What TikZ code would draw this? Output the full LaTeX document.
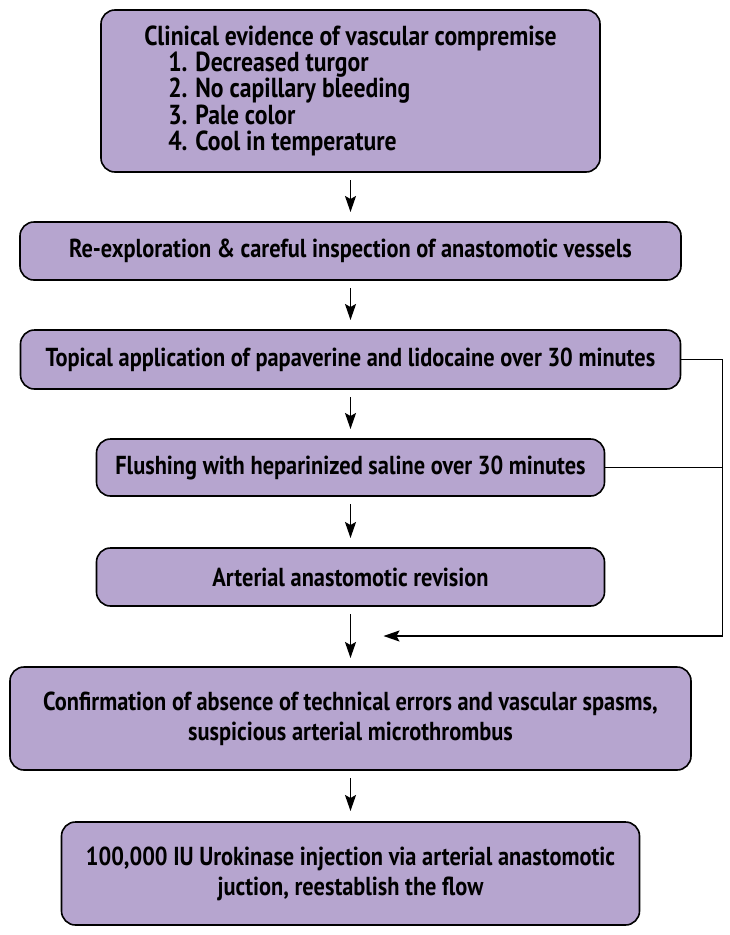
\documentclass[tikz,border=0pt]{standalone}
\usepackage{fontspec}
\setmainfont{PT Sans}[FakeStretch=0.86]
\usepackage{tikz}
\usetikzlibrary{positioning, arrows.meta}
\definecolor{boxfill}{RGB}{182,165,207}
\tikzstyle{stepbox} = [draw, line width=1.6pt, outer sep=0pt, fill=boxfill, rounded corners=14pt, align=center, font=\fontsize{26}{27}\selectfont\bfseries]
\tikzstyle{arrow} = [line width=1.5pt, -{Stealth[length=16pt,width=11pt,inset=3pt]}]

\begin{document}
\begin{tikzpicture}
        \useasboundingbox (0,0) rectangle (729pt,-935pt);
        \node[stepbox, minimum width=499pt, minimum height=162pt, align=left,
              font=\fontsize{27.5}{26.5}\selectfont\bfseries] (1) at (350.5pt,-91pt)
            {Clinical evidence of vascular compremise\\[-1pt]
             \hspace*{24pt}1. Decreased turgor\\
             \hspace*{24pt}2. No capillary bleeding\\
             \hspace*{24pt}3. Pale color\\
             \hspace*{24pt}4. Cool in temperature};
        \node[stepbox, below=50pt of 1, minimum width=661pt, minimum height=58pt] (2)
            {Re-exploration \& careful inspection of anastomotic vessels};
        \node[stepbox, below=50pt of 2, minimum width=660pt, minimum height=59pt] (3)
            {Topical application of papaverine and lidocaine over 30 minutes};
        \node[stepbox, below=50pt of 3, minimum width=508pt, minimum height=57pt] (4)
            {Flushing with heparinized saline over 30 minutes};
        \node[stepbox, below=52pt of 4, minimum width=508pt, minimum height=58pt] (5)
            {Arterial anastomotic revision};
        \node[stepbox, below=61pt of 5, minimum width=681pt, minimum height=103pt] (6)
            {Confirmation of absence of technical errors and vascular spasms,\\[3pt]
             suspicious arterial microthrombus};
        \node[stepbox, below=52pt of 6, minimum width=578pt, minimum height=103pt] (7)
            {100,000 IU Urokinase injection via arterial anastomotic\\[3pt]
             juction, reestablish the flow};
        \coordinate (r3) at ([xshift=42pt]3.east);
        \coordinate (tip) at ([xshift=33pt,yshift=31pt]6.north);
        \draw[arrow] ([yshift=-8pt]1.south) -- ([yshift=10pt]2.north);
        \draw[arrow] ([yshift=-8pt]2.south) -- ([yshift=10pt]3.north);
        \draw[arrow] ([yshift=-8pt]3.south) -- ([yshift=10pt]4.north);
        \draw[arrow] ([yshift=-8pt]4.south) -- ([yshift=10pt]5.north);
        \draw[arrow] ([yshift=-8pt]5.south) -- ([yshift=9pt]6.north);
        \draw[arrow] ([yshift=-8pt]6.south) -- ([yshift=11pt]7.north);
        \draw[line width=1.5pt] (3.east) -- (r3);
        \draw[line width=1.5pt] (4.east) -- (4.east -| r3);
        \draw[arrow] (r3) |- (tip);
      \end{tikzpicture}
\end{document}
